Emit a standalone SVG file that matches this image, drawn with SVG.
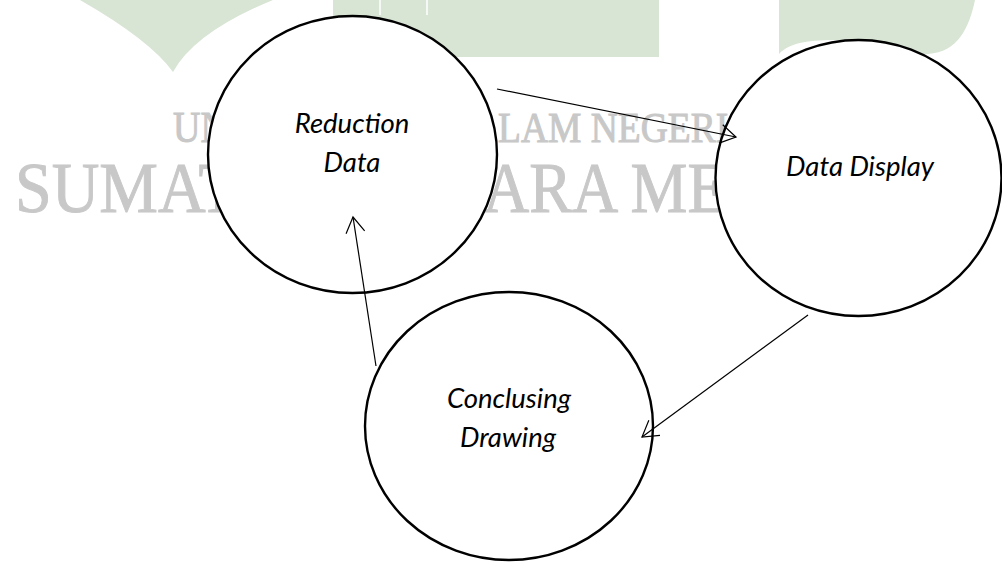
<svg xmlns="http://www.w3.org/2000/svg" width="1002" height="562" viewBox="0 0 1002 562">
<style>
.wm{fill:#d8e4d4;}
.wmt{font-family:"Liberation Serif","Times New Roman",serif;fill:#c8c8c8;stroke:#c8c8c8;stroke-width:0.9;}
.node{fill:#ffffff;stroke:#000000;stroke-width:2.4;}
.lbl{font-family:Lato,"Liberation Sans",sans-serif;font-style:italic;font-size:27.5px;fill:#000000;text-anchor:middle;}
.edge{stroke:#000000;stroke-width:1.2;fill:none;marker-end:url(#arr);}
</style>
<defs>
<marker id="arr" markerUnits="userSpaceOnUse" markerWidth="24" markerHeight="24" refX="18" refY="11" orient="auto" overflow="visible">
<path d="M2.6,1.6 L18,11 L2.6,20.4" fill="none" stroke="#000000" stroke-width="1.2"/>
</marker>
</defs>
<rect width="1002" height="562" fill="#ffffff"/>
<g id="watermark">
<path class="wm" d="M80,0 L273,0 Q195,32 173,72 Q150,40 80,0 Z"/>
<rect class="wm" x="333" y="0" width="326" height="57"/>
<line x1="380" y1="0" x2="380" y2="15" stroke="#ffffff" stroke-width="1.5"/>
<line x1="427" y1="0" x2="427" y2="15" stroke="#ffffff" stroke-width="1.5"/>
<path class="wm" d="M779,0 H975 C969,28 958,52 928,54 C900,56 860,40 840,40 C810,40 790,42 779,54 Z"/>
<text class="wmt" font-size="38" transform="translate(173,142) scale(1,1.14)">UN</text>
<text class="wmt" font-size="37.5" transform="translate(498,142) scale(1,1.15)">LAM NEGERI</text>
<text class="wmt" font-size="66" transform="translate(15,212) scale(1,1.08)">SUMAT</text>
<text class="wmt" font-size="64" transform="translate(483,212) scale(1,1.11)">ARA ME</text>
</g>
<g id="node-reduction">
<ellipse class="node" cx="352.5" cy="154.5" rx="144.5" ry="138.5"/>
<text class="lbl" x="352" y="133">Reduction</text>
<text class="lbl" x="352" y="172">Data</text>
</g>
<g id="node-display">
<ellipse class="node" cx="858.5" cy="178" rx="143" ry="138"/>
<text class="lbl" x="860" y="176">Data Display</text>
</g>
<g id="node-conclusing">
<ellipse class="node" cx="509" cy="426" rx="144" ry="134"/>
<text class="lbl" x="509" y="408">Conclusing</text>
<text class="lbl" x="508" y="447">Drawing</text>
</g>
<g id="connectors">
<line class="edge" x1="497" y1="89" x2="736" y2="137"/>
<line class="edge" x1="808" y1="315" x2="642" y2="437"/>
<line class="edge" x1="376" y1="366" x2="353" y2="217"/>
</g>
</svg>
